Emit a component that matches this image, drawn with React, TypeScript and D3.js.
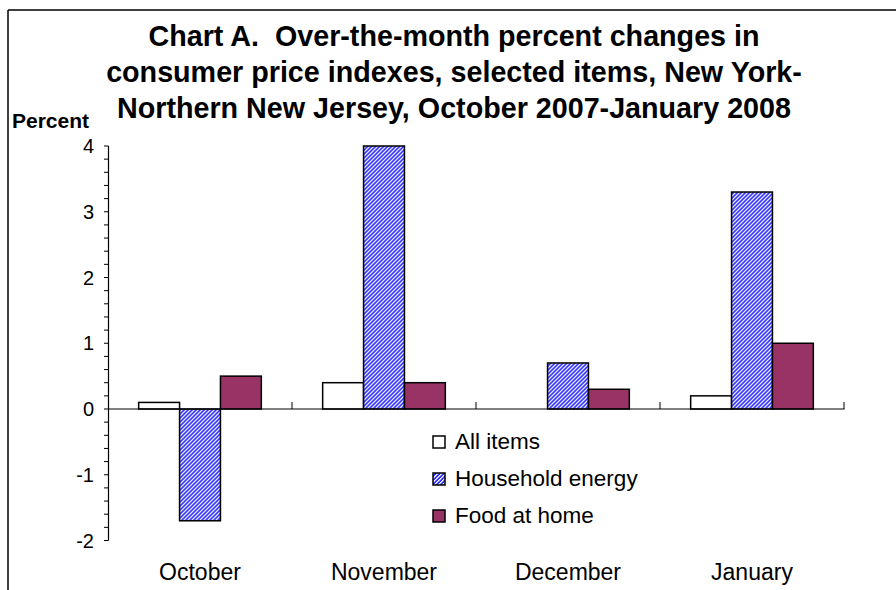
import React from "react";
import * as d3 from "d3";

const months = ["October", "November", "December", "January"];
const seriesNames = ["All items", "Household energy", "Food at home"];
const allItems = [0.1, 0.4, 0.0, 0.2];
const householdEnergy = [-1.7, 4.0, 0.7, 3.3];
const foodAtHome = [0.5, 0.4, 0.3, 1.0];
const yTicks = [-2, -1, 0, 1, 2, 3, 4];
const titleLines = [
  "Chart A.  Over-the-month percent changes in",
  "consumer price indexes, selected items, New York-",
  "Northern New Jersey, October 2007-January 2008",
];

const W = 896;
const H = 590;
const FONT = "'Liberation Sans', Arial, Helvetica, sans-serif";

export default function App() {
  const seriesValues = [allItems, householdEnergy, foodAtHome];
  const fills = ["#FFFFFF", "url(#hatch)", "#993366"];

  const x0 = d3
    .scaleBand<string>()
    .domain(months)
    .range([108, 844])
    .paddingInner(1 / 3)
    .paddingOuter(1 / 6);
  const x1 = d3
    .scaleBand<string>()
    .domain(seriesNames)
    .range([0, x0.bandwidth()])
    .padding(0);
  const y = d3.scaleLinear().domain([-2, 4]).range([540.5, 146]);

  const minorTicks = d3.range(-2, 4.0001, 0.2).map((v) => Math.round(v * 10) / 10);
  const step = x0.step();
  const boundaries = months.map((m) => (x0(m) as number) - x0.paddingOuter() * step + step);

  const hatchPixels: { x: number; y: number; c: string }[] = [];
  for (let i = 0; i < 4; i++) {
    for (let j = 0; j < 4; j++) {
      if ((i + j) % 4 === 0) hatchPixels.push({ x: i, y: j, c: "#FFFFFF" });
      else if ((i + j) % 4 === 1) hatchPixels.push({ x: i, y: j, c: "#B0B0FF" });
    }
  }

  return (
    <svg
      width={W}
      height={H}
      style={{ position: "absolute", left: 0, top: 0, display: "block", background: "#fff" }}
      fontFamily={FONT}
    >
      <defs>
        <pattern id="hatch" patternUnits="userSpaceOnUse" width={4} height={4}>
          <rect x={0} y={0} width={4} height={4} fill="#3333FF" />
          {hatchPixels.map((p, i) => (
            <rect key={i} x={p.x} y={p.y} width={1} height={1} fill={p.c} />
          ))}
        </pattern>
      </defs>
      <rect x={0} y={0} width={W} height={H} fill="#fff" />
      <line x1={8} y1={10} x2={W} y2={10} stroke="#000" strokeWidth={1.5} />
      <line x1={8} y1={10} x2={8} y2={H} stroke="#000" strokeWidth={1.5} />

      {titleLines.map((t, i) => (
        <text
          key={i}
          x={454}
          y={46 + i * 36}
          textAnchor="middle"
          fontSize={28.7}
          fontWeight="bold"
          style={{ whiteSpace: "pre" }}
          fill="#000"
        >
          {t}
        </text>
      ))}
      <text x={12} y={128} fontSize={21} fontWeight="bold" fill="#000">
        Percent
      </text>

      {months.map((m, mi) => (
        <g key={m} transform={`translate(${x0(m)},0)`}>
          {seriesNames.map((s, si) => {
            const v = seriesValues[si][mi];
            if (v === 0) return null;
            const y0 = y(0);
            const yv = y(v);
            return (
              <rect
                key={s}
                x={x1(s)}
                y={Math.min(y0, yv)}
                width={x1.bandwidth()}
                height={Math.abs(yv - y0)}
                fill={fills[si]}
                stroke="#000"
                strokeWidth={1.5}
              />
            );
          })}
        </g>
      ))}

      <line x1={108.5} y1={y(4)} x2={108.5} y2={y(-2)} stroke="#000" strokeWidth={1.2} />
      {minorTicks.map((v) => (
        <line key={v} x1={104} x2={108.5} y1={y(v)} y2={y(v)} stroke="#000" strokeWidth={1} />
      ))}
      {yTicks.map((v) => (
        <text key={v} x={94} y={y(v)} dy="0.36em" textAnchor="end" fontSize={20} fill="#000">
          {v}
        </text>
      ))}

      <line x1={108} x2={844.5} y1={y(0)} y2={y(0)} stroke="#000" strokeWidth={1.2} />
      {boundaries.map((b, i) => (
        <line key={i} x1={b} x2={b} y1={y(0) - 7} y2={y(0)} stroke="#000" strokeWidth={1} />
      ))}
      {months.map((m) => (
        <text
          key={m}
          x={(x0(m) as number) + x0.bandwidth() / 2}
          y={580}
          textAnchor="middle"
          fontSize={23}
          fill="#000"
        >
          {m}
        </text>
      ))}

      {seriesNames.map((s, i) => (
        <g key={s} transform={`translate(433,${436 + i * 37})`}>
          <rect x={0} y={0} width={12} height={12} fill={fills[i]} stroke="#000" strokeWidth={1.5} />
          <text x={22} y={12.5} fontSize={22.5} fill="#000">
            {s}
          </text>
        </g>
      ))}
    </svg>
  );
}
